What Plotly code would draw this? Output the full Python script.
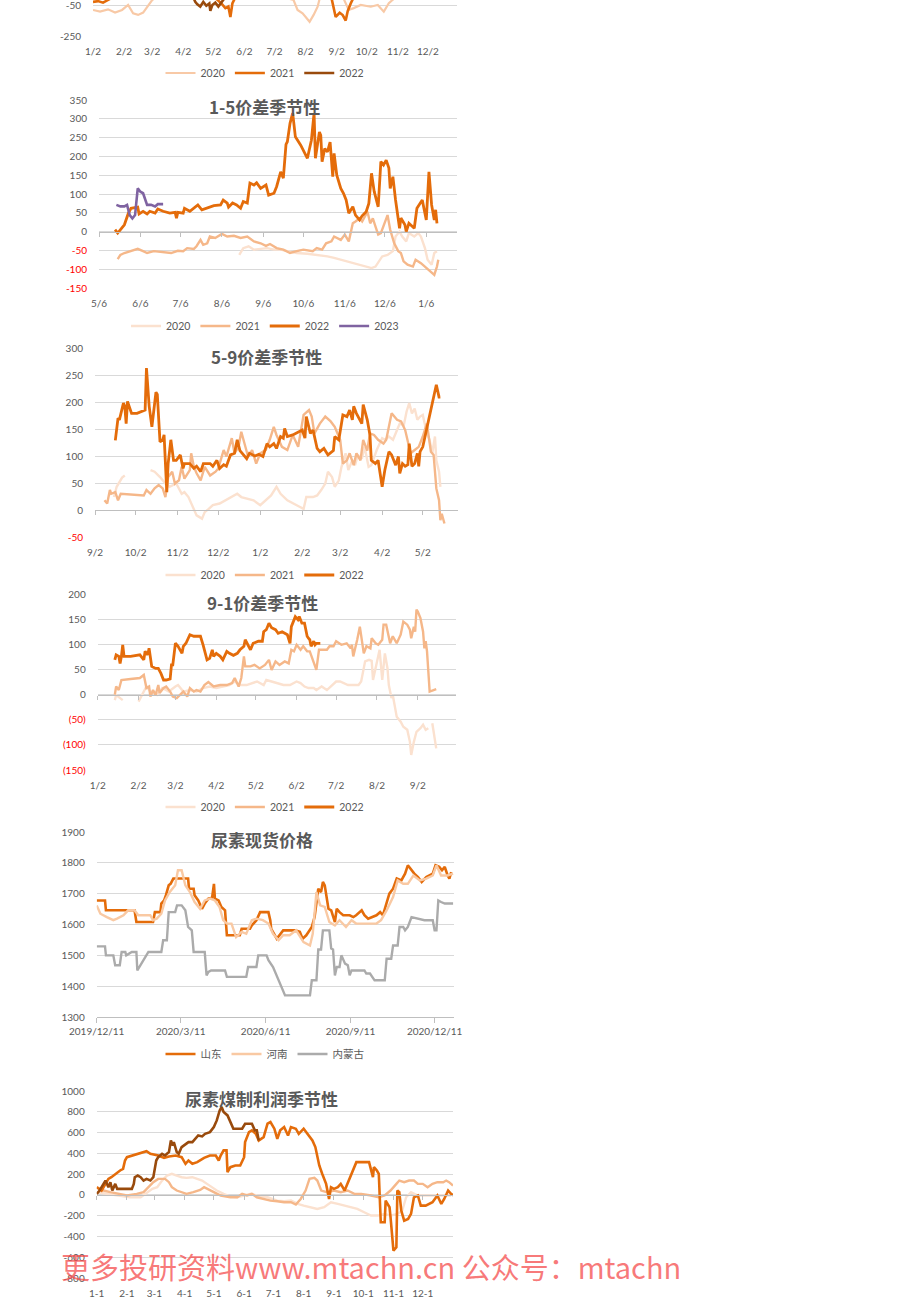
import plotly.graph_objects as go
import pandas as pd

W, H = 920, 1302

# ======================= DATA =======================
# Panel 1 (cut at top) - seasonal spread, days counted from 1/2
P1_BASE = "2021-01-02"
p1_2020_day = [0,7,15,22,29,35,40,45,50,55,59,65,90,120,150,180,200,204,209,214,216,220,224,226,240,250,255,260,267,277,284,290,295,300,320,340,362]
p1_2020_val = [-82,-93,-78,-99,-82,-50,-104,-114,-99,-50,-18,10,40,60,50,20,-18,-82,-104,-147,-158,-114,-61,-10,20,-10,-82,-70,-50,-61,-50,-93,-39,-10,20,40,30]
p1_2021_day = [0,5,10,17,20,60,100,123,128,132,135,137,139,142,170,230,238,240,242,246,249,252,254,257,260,290,340,362]
p1_2021_val = [-30,-25,-35,-10,20,50,20,-10,-40,-70,-60,-127,-40,0,40,20,-10,-60,-127,-100,-115,-150,-90,-40,0,40,30,20]
p1_2022_day = [0,30,60,90,100,102,104,107,110,113,116,117,119,122,125,127,130,133]
p1_2022_val = [30,60,40,20,0,-30,-45,-60,-30,-55,-40,-88,-50,-35,-60,-45,-20,10]
p1_xtick = ["2021-01-02","2021-02-02","2021-03-02","2021-04-02","2021-05-02","2021-06-02","2021-07-02","2021-08-02","2021-09-02","2021-10-02","2021-11-02","2021-12-02"]
p1_xtext = ["1/2","2/2","3/2","4/2","5/2","6/2","7/2","8/2","9/2","10/2","11/2","12/2"]
p1_ytick = [-250, -50]
p1_ytext = ["-250", "-50"]

# Panel 2: 1-5价差季节性, days from 5/6
P2_BASE = "2022-05-06"
p2_2020_day = [105,108,112,116,121,126,131,136,141,148,156,163,171,176,181,185,189,194,199,204,207,210,212,216,220,222,225,227,230,232,236,239,241,244,246,249,251,253]
p2_2020_val = [-62,-44,-39,-48,-46,-44,-48,-48,-52,-57,-59,-62,-66,-70,-75,-79,-84,-88,-93,-97,-93,-75,-66,-62,-52,-13,0,-13,-26,-4,-13,-4,-13,-44,-75,-88,-57,-52]
p2_2021_day = [14,16,19,24,29,33,36,41,48,54,59,63,66,71,73,76,78,81,83,87,92,96,101,106,111,116,121,125,128,133,138,143,148,153,160,163,167,170,174,176,181,184,187,190,192,195,197,201,203,205,207,209,211,214,216,218,221,224,226,228,231,235,237,241,245,249,251,253,254]
p2_2021_val = [-73,-62,-57,-51,-46,-52,-57,-52,-55,-57,-51,-52,-44,-46,-39,-22,-35,-31,-13,-17,-6,-13,-11,-17,-13,-26,-31,-38,-33,-44,-48,-57,-52,-48,-52,-44,-48,-31,-26,-13,-22,-8,-26,22,27,35,27,53,22,35,13,-8,-4,22,44,5,-31,-52,-57,-79,-88,-93,-75,-84,-97,-110,-115,-93,-75]
p2_2022_day = [12,14,17,19,22,24,29,30,33,36,38,42,44,48,53,57,58,59,63,64,68,71,74,77,81,86,91,93,96,97,100,103,106,108,111,113,116,118,121,125,127,131,133,136,138,140,141,143,145,147,151,156,159,161,162,165,166,167,169,171,173,175,176,178,181,183,185,187,190,192,195,197,200,202,204,206,209,210,211,213,215,217,218,220,222,225,226,229,230,232,236,238,242,245,247,249,251,252,253]
p2_2022_val = [5,-4,9,18,49,62,65,47,54,47,54,49,60,54,49,51,36,51,49,62,54,62,71,58,62,69,71,84,76,65,76,71,62,80,76,129,124,130,115,124,97,102,120,159,142,232,239,288,315,252,230,195,243,315,195,265,256,186,221,212,238,146,208,150,115,102,84,49,66,44,31,42,53,75,155,107,66,133,186,177,190,169,115,146,84,9,36,18,0,22,9,62,84,31,159,71,31,58,22]
p2_2023_day = [13,16,19,21,23,25,27,29,31,33,36,39,42,44,48]
p2_2023_val = [71,67,67,71,44,35,44,115,106,102,71,71,67,73,73]
p2_xtick = ["2022-05-06","2022-06-06","2022-07-06","2022-08-06","2022-09-06","2022-10-06","2022-11-06","2022-12-06","2023-01-06"]
p2_xtext = ["5/6","6/6","7/6","8/6","9/6","10/6","11/6","12/6","1/6"]
p2_ytick = [-150,-100,-50,0,50,100,150,200,250,300,350]

# Panel 3: 5-9价差季节性, days from 9/2
P3_BASE = "2021-09-02"
p3_2020_day = [14,16,20,22,30,41,44,48,52,55,60,64,66,69,73,75,79,81,84,87,92,96,100,105,108,112,117,122,126,130,134,137,142,146,151,154,156,161,164,167,170,172,175,177,180,182,185,187,190,192,194,197,199,202,204,208,212,214,217,220,223,225,228,230,232,234,236,238,240,242,245,247,249,251,252,254,255]
p3_2020_val = [24,43,60,64,None,74,71,61,49,43,49,30,33,24,0,-10,-16,-4,2,9,12,18,24,30,24,21,18,9,18,27,43,30,18,12,6,2,24,24,27,37,49,71,61,43,55,80,105,74,92,83,102,95,117,80,83,111,133,130,136,130,148,160,157,182,198,179,188,167,173,176,142,130,105,136,92,71,43]
p3_2021_day = [7,9,11,12,15,17,19,26,36,38,41,44,47,50,52,54,57,59,62,64,66,70,71,73,75,78,81,85,89,91,95,97,101,103,106,108,111,113,116,119,122,126,129,132,134,138,142,146,150,154,158,160,162,166,170,174,177,181,183,186,188,191,193,196,198,201,203,206,209,213,215,219,223,226,229,233,236,239,242,245,248,250,252,254,255,256,258]
p3_2021_val = [18,12,37,30,33,18,30,29,27,37,30,40,46,40,24,61,71,49,55,80,58,74,105,80,68,55,80,64,71,77,111,99,133,105,117,145,117,99,111,86,105,111,130,154,139,117,111,139,117,176,185,173,142,160,173,164,154,130,86,92,105,83,105,92,130,110,142,139,130,123,130,179,167,164,148,105,111,117,136,160,108,102,40,18,-19,-7,-25]
p3_2022_day = [15,16,17,18,20,21,22,23,24,25,27,31,37,38,39,40,42,44,45,46,48,50,51,53,54,56,58,60,63,65,66,70,73,75,78,80,85,87,90,92,95,97,100,103,105,107,110,112,114,118,121,124,127,129,132,134,137,139,140,142,146,153,155,156,159,161,164,166,169,172,176,177,180,183,186,188,190,191,193,197,198,201,203,204,207,209,212,214,217,219,222,224,225,227,229,231,232,234,236,238,239,240,242,245,247,250,252,254,255]
p3_2022_val = [129,148,170,167,185,198,192,160,201,192,179,179,185,263,229,192,154,192,218,214,126,130,139,33,86,130,92,92,102,77,86,86,77,81,71,86,86,81,92,77,84,81,102,105,130,110,102,95,105,100,103,99,123,117,123,114,136,133,151,136,139,148,133,173,142,148,114,108,114,102,110,136,130,176,173,185,167,192,179,160,195,167,139,92,86,92,43,74,108,102,83,99,68,86,81,84,123,81,86,105,81,108,117,151,176,207,232,209,209]
p3_xtick = ["2021-09-02","2021-10-02","2021-11-02","2021-12-02","2022-01-02","2022-02-02","2022-03-02","2022-04-02","2022-05-02"]
p3_xtext = ["9/2","10/2","11/2","12/2","1/2","2/2","3/2","4/2","5/2"]
p3_ytick = [-50,0,50,100,150,200,250,300]

# Panel 4: 9-1价差季节性, days from 1/2
P4_BASE = "2022-01-02"
p4_2020_day = [13,14,17,19,25,31,33,37,40,45,49,54,59,61,65,70,75,80,85,90,95,100,104,108,113,117,121,126,128,132,136,141,146,151,154,157,160,164,166,170,174,178,181,184,187,190,194,198,200,203,206,208,209,211,214,216,217,218,220,221,223,224,227,230,232,235,237,238,240,242,245,247,249,251,253,254,257]
p4_2020_val = [-11,-1,-7,-11,None,-14,-4,16,6,-1,13,6,16,19,6,9,6,13,16,13,16,19,26,19,19,23,26,19,29,26,23,19,19,26,23,16,13,13,9,16,9,19,26,26,23,19,19,19,26,66,69,67,29,56,89,29,59,82,52,19,-7,-1,-44,-54,-64,-70,-94,-120,-94,-74,-67,-60,-70,-67,None,-57,-107]
p4_2021_day = [13,14,16,18,25,32,35,36,37,39,40,42,44,46,47,50,52,55,57,60,62,65,68,70,73,75,78,81,84,88,93,98,102,104,107,109,111,112,116,119,123,127,130,132,135,138,142,145,147,149,151,154,156,159,161,164,166,168,170,174,176,179,181,185,189,192,193,194,197,199,202,204,207,208,211,213,216,217,219,222,224,227,230,232,235,237,238,240,241,242,243,245,247,248,249,250,252,255,257]
p4_2021_val = [0,16,9,29,31,33,39,23,13,16,-4,9,-1,19,3,13,16,6,-4,-7,-1,6,-4,13,6,9,6,19,25,16,19,19,23,33,16,33,76,56,56,59,52,59,69,49,66,59,66,62,89,86,99,89,96,86,86,66,49,89,89,89,96,96,106,99,102,92,99,76,109,135,82,96,92,112,102,99,109,139,139,102,116,102,119,145,139,129,112,135,125,169,165,152,125,92,106,86,6,9,11]
p4_2022_day = [13,14,16,17,18,19,20,25,32,35,36,38,39,41,44,46,48,50,52,55,56,57,59,61,64,65,67,70,73,75,78,80,83,85,87,88,90,93,95,98,100,103,106,108,111,112,114,116,118,122,125,126,128,130,132,135,137,140,142,144,146,147,150,152,153,155,157,159,160,161,162,164,165,166,169]
p4_2022_val = [69,79,76,62,76,99,76,76,79,69,86,79,92,56,52,52,42,29,29,31,59,59,102,96,82,96,102,119,116,116,116,99,69,72,89,76,82,76,69,86,82,78,82,89,96,109,99,89,102,106,106,125,129,142,133,129,122,125,122,119,102,135,155,149,155,142,142,116,112,109,96,106,99,102,102]
p4_xtick = ["2022-01-02","2022-02-02","2022-03-02","2022-04-02","2022-05-02","2022-06-02","2022-07-02","2022-08-02","2022-09-02"]
p4_xtext = ["1/2","2/2","3/2","4/2","5/2","6/2","7/2","8/2","9/2"]
p4_ytick = [-150,-100,-50,0,50,100,150,200]
p4_ytext_pos = ["0","50","100","150","200"]
p4_ytext_neg = ["(150)","(100)","(50)"]

# Panel 5: 尿素现货价格, days from 2019/12/11
P5_BASE = "2019-12-11"
p5_sd_day = [0,9,10,41,43,61,63,69,70,73,75,78,80,83,99,100,105,106,110,114,117,121,125,127,128,132,135,139,141,155,157,166,168,173,177,186,188,189,195,202,215,220,223,227,233,236,240,243,245,247,251,254,258,260,263,267,274,278,281,287,290,294,303,307,310,314,317,321,325,330,334,337,341,344,348,352,357,364,367,371,374,377,380,382,384]
p5_sd_val = [1678,1678,1646,1646,1608,1608,1640,1640,1668,1678,1695,1727,1732,1749,1749,1716,1716,1695,1678,1651,1668,1684,1687,1732,1684,1678,1657,1646,1565,1565,1586,1586,1597,1614,1640,1640,1614,1586,1554,1581,1581,1576,1554,1565,1592,1624,1716,1705,1738,1727,1651,1646,1608,1651,1640,1630,1630,1624,1630,1646,1630,1619,1630,1640,1630,1673,1700,1716,1749,1743,1765,1792,1776,1765,1754,1738,1754,1765,1792,1787,1776,1787,1760,1749,1770]
p5_hn_day = [0,4,11,18,22,29,34,41,45,58,61,65,70,74,79,85,88,92,96,101,106,112,117,123,128,133,137,141,146,151,157,162,168,173,180,186,191,197,202,209,216,224,231,234,238,242,247,252,258,263,270,276,281,288,296,303,308,314,321,326,332,337,343,350,357,364,368,373,380,386]
p5_hn_val = [1662,1635,1624,1614,1619,1630,1646,1646,1630,1630,1614,1619,1635,1678,1705,1727,1776,1776,1727,1705,1673,1651,1678,1684,1678,1657,1614,1603,1603,1559,1576,1570,1614,1619,1614,1603,1570,1549,1565,1565,1581,1543,1532,1570,1705,1662,1657,1608,1597,1614,1592,1614,1603,1603,1603,1603,1614,1646,1689,1743,1732,1732,1759,1743,1749,1759,1792,1759,1759,1765]
p5_nm_day = [0,9,10,18,20,25,27,31,32,38,43,44,56,70,72,76,78,85,87,92,96,99,103,105,117,119,121,124,139,141,162,164,173,175,184,186,191,195,199,204,231,233,238,240,243,245,252,254,256,258,260,263,265,269,272,274,276,290,292,296,301,312,314,319,321,326,328,332,334,337,341,350,355,364,366,368,370,373,377,386]
p5_nm_val = [1529,1529,1500,1500,1468,1468,1511,1511,1500,1511,1511,1451,1511,1511,1549,1549,1640,1640,1662,1662,1646,1592,1581,1511,1511,1435,1446,1451,1451,1430,1430,1462,1462,1500,1500,1484,1462,1435,1403,1370,1370,1419,1419,1519,1519,1581,1581,1522,1519,1435,1462,1462,1500,1473,1468,1435,1451,1451,1441,1441,1419,1419,1489,1489,1532,1532,1592,1592,1581,1592,1624,1619,1614,1614,1581,1581,1678,1673,1668,1668]
p5_xtick = ["2019-12-11","2020-03-11","2020-06-11","2020-09-11","2020-12-11"]
p5_xtext = ["2019/12/11","2020/3/11","2020/6/11","2020/9/11","2020/12/11"]
p5_ytick = [1300,1400,1500,1600,1700,1800,1900]

# Panel 6: 尿素煤制利润季节性, days from 1-1
P6_BASE = "2021-01-01"
p6_a_day = [0,10,21,34,45,53,57,62,67,72,77,82,87,92,98,103,108,113,118,123,130,137,144,151,158,164,175,185,192,199,206,212,219,226,233,240,247,254,260,267,274,281,288,295,301,308,313,317,322,329,336,343,349,356,363]
p6_a_val = [26,10,-6,-23,-23,26,58,74,138,186,203,186,170,164,170,154,138,106,74,42,10,-16,-23,-6,10,-6,-23,-55,-61,-55,-87,-103,-119,-135,-119,-71,-87,-103,-119,-135,-167,-199,-199,-183,-199,-183,-151,-23,26,-6,-6,-6,-6,-6,-6]
p6_b_day = [0,7,14,21,31,41,48,53,58,63,70,74,77,82,87,92,99,106,110,113,120,127,137,144,149,154,159,164,171,178,185,192,199,204,209,214,218,223,226,230,236,243,250,257,264,271,281,289,295,301,307,310,315,320,325,329,334,339,344,349,355,358,361,365]
p6_b_val = [74,42,26,10,-6,10,26,74,122,154,154,122,74,42,26,10,26,48,74,58,26,-6,-23,-23,10,-6,10,-23,-39,-55,-61,-71,-71,-93,-39,42,154,164,138,42,26,42,26,42,10,10,-6,-23,-6,42,106,138,122,138,138,106,106,74,106,122,122,138,122,90]
p6_c_day = [0,3,5,9,12,15,21,24,27,29,31,36,41,48,51,55,60,63,69,74,81,87,91,94,98,103,110,116,122,125,127,130,133,134,137,142,147,151,152,156,159,163,166,171,175,178,182,185,188,192,196,199,204,207,212,216,221,224,228,231,235,237,238,240,243,247,250,254,257,260,266,271,279,283,284,287,289,291,295,296,300,301,304,307,308,310,312,315,319,322,325,329,332,337,344,349,353,356,360,363,366]
p6_c_val = [74,58,42,106,154,170,219,235,251,331,363,379,389,412,421,395,389,379,357,370,379,363,299,331,299,315,357,379,379,331,379,428,428,219,267,283,283,363,508,604,621,588,524,556,685,701,637,540,621,653,572,653,637,588,637,588,524,460,283,203,106,10,-39,74,58,74,106,42,106,186,315,315,315,170,267,235,203,-264,-264,-55,-119,-215,-537,-505,42,26,-151,-248,-232,-183,-23,-6,-103,-103,-71,-6,-87,-39,42,10,-6]
p6_d_day = [0,3,7,9,12,14,16,19,21,24,36,38,39,42,45,48,51,55,58,61,63,67,70,74,76,78,79,82,84,87,91,94,98,101,104,108,111,116,120,123,126,128,130,134,137,140,149,152,159,162,164,166]
p6_d_val = [10,42,106,138,74,122,42,106,58,58,58,106,170,186,170,138,154,138,170,331,363,395,379,412,524,476,508,412,395,460,492,508,508,540,572,563,588,604,653,717,813,846,797,765,701,637,637,685,685,621,621,524]
p6_xtick = ["2021-01-01","2021-02-01","2021-03-01","2021-04-01","2021-05-01","2021-06-01","2021-07-01","2021-08-01","2021-09-01","2021-10-01","2021-11-01","2021-12-01"]
p6_xtext = ["1-1","2-1","3-1","4-1","5-1","6-1","7-1","8-1","9-1","10-1","11-1","12-1"]
p6_ytick = [-800,-600,-400,-200,0,200,400,600,800,1000]

TITLES = ["1-5价差季节性", "5-9价差季节性", "9-1价差季节性", "尿素现货价格", "尿素煤制利润季节性"]
WATERMARK = "更多投研资料www.mtachn.cn 公众号：mtachn"

# ======================= STYLE =======================
C_VLIGHT = "#FBE1CF"
C_LIGHT = "#F5B789"
C_ORANGE = "#E46C0A"
C_BROWN = "#994A0C"
C_PURPLE = "#7F63A1"
C_P1_2020 = "#F8C9A6"
C_HN = "#F9C9A3"
C_GRAY = "#ABABAB"
TXT = "#595959"
RED = "#FF0000"
TF = dict(family="Lato, 'Noto Sans CJK SC', sans-serif", size=10, color=TXT)
LF = dict(family="Lato, 'Noto Sans CJK SC', sans-serif", size=10.5, color=TXT)


def to_dates(base, days):
    b = pd.Timestamp(base)
    return [(b + pd.Timedelta(days=int(d))).strftime("%Y-%m-%d") for d in days]


def red(s):
    return '<span style="color:%s">%s</span>' % (RED, s)


fig = go.Figure()


def add_line(i, base, days, vals, name, color, width, legend=None):
    fig.add_trace(go.Scatter(
        x=to_dates(base, days), y=vals, mode="lines", name=name,
        line=dict(color=color, width=width),
        xaxis="x" if i == 1 else f"x{i}", yaxis="y" if i == 1 else f"y{i}",
        legend=legend if legend else "legend", showlegend=legend is not None,
        connectgaps=False, hoverinfo="skip"))


# Panel 1
add_line(1, P1_BASE, p1_2020_day, p1_2020_val, "2020", C_P1_2020, 2.2, "legend")
add_line(1, P1_BASE, p1_2021_day, p1_2021_val, "2021", C_ORANGE, 2.6, "legend")
add_line(1, P1_BASE, p1_2022_day, p1_2022_val, "2022", C_BROWN, 2.6, "legend")
# Panel 2
add_line(2, P2_BASE, p2_2020_day, p2_2020_val, "2020", C_VLIGHT, 2.4, "legend2")
add_line(2, P2_BASE, p2_2021_day, p2_2021_val, "2021", C_LIGHT, 2.4, "legend2")
add_line(2, P2_BASE, p2_2022_day, p2_2022_val, "2022", C_ORANGE, 2.8, "legend2")
add_line(2, P2_BASE, p2_2023_day, p2_2023_val, "2023", C_PURPLE, 2.6, "legend2")
# Panel 3
add_line(3, P3_BASE, p3_2020_day, p3_2020_val, "2020", C_VLIGHT, 2.4, "legend3")
add_line(3, P3_BASE, p3_2021_day, p3_2021_val, "2021", C_LIGHT, 2.4, "legend3")
add_line(3, P3_BASE, p3_2022_day, p3_2022_val, "2022", C_ORANGE, 2.8, "legend3")
# Panel 4
add_line(4, P4_BASE, p4_2020_day, p4_2020_val, "2020", C_VLIGHT, 2.4, "legend4")
add_line(4, P4_BASE, p4_2021_day, p4_2021_val, "2021", C_LIGHT, 2.4, "legend4")
add_line(4, P4_BASE, p4_2022_day, p4_2022_val, "2022", C_ORANGE, 2.8, "legend4")
# Panel 5
add_line(5, P5_BASE, p5_sd_day, p5_sd_val, "山东", C_ORANGE, 2.6, "legend5")
add_line(5, P5_BASE, p5_hn_day, p5_hn_val, "河南", C_HN, 2.4, "legend5")
add_line(5, P5_BASE, p5_nm_day, p5_nm_val, "内蒙古", C_GRAY, 2.4, "legend5")
# Panel 6 (no legend)
add_line(6, P6_BASE, p6_a_day, p6_a_val, "a", C_VLIGHT, 2.4)
add_line(6, P6_BASE, p6_b_day, p6_b_val, "b", C_LIGHT, 2.4)
add_line(6, P6_BASE, p6_c_day, p6_c_val, "c", C_ORANGE, 2.6)
add_line(6, P6_BASE, p6_d_day, p6_d_val, "d", C_BROWN, 2.6)

# ======================= LAYOUT =======================
p2_ytext = [red(v) if v < 0 else str(v) for v in p2_ytick]
p3_ytext = [red(v) if v < 0 else str(v) for v in p3_ytick]
p4_ytext = [red(s) for s in p4_ytext_neg] + p4_ytext_pos

PANELS = [
    dict(i=1, box=(93, 457, -2, 36), xr=["2021-01-02", "2021-12-31"], yr=[-250, -17.7],
         xt=p1_xtick, xtt=p1_xtext, yt=p1_ytick, ytt=p1_ytext, zero=False),
    dict(i=2, box=(99, 457, 100, 288), xr=["2022-05-06", "2023-01-29"], yr=[-150, 350],
         xt=p2_xtick, xtt=p2_xtext, yt=p2_ytick, ytt=p2_ytext, zero=True),
    dict(i=3, box=(95, 458, 348, 537), xr=["2021-09-02", "2022-05-28"], yr=[-50, 300],
         xt=p3_xtick, xtt=p3_xtext, yt=p3_ytick, ytt=p3_ytext, zero=True),
    dict(i=4, box=(97.7, 456, 594, 770), xr=["2022-01-02", "2022-10-01"], yr=[-150, 200],
         xt=p4_xtick, xtt=p4_xtext, yt=p4_ytick, ytt=p4_ytext, zero=True),
    dict(i=5, box=(96.7, 454, 832, 1017), xr=["2019-12-11", "2021-01-01"], yr=[1300, 1900],
         xt=p5_xtick, xtt=p5_xtext, yt=p5_ytick, ytt=[str(v) for v in p5_ytick], zero=False),
    dict(i=6, box=(96.7, 453, 1091, 1278), xr=["2021-01-01", "2022-01-01"], yr=[-800, 1000],
         xt=p6_xtick, xtt=p6_xtext, yt=p6_ytick, ytt=[str(v) for v in p6_ytick], zero=True),
]

layout = dict(width=W, height=H, margin=dict(l=0, r=0, t=0, b=0, pad=0, autoexpand=False),
              paper_bgcolor="white", plot_bgcolor="white", hovermode=False)

extra = 7
for p in PANELS:
    i = p["i"]
    x0, x1, top, bot = p["box"]
    xd = [x0 / W, x1 / W]
    yd = [max(0, 1 - bot / H), min(1, 1 - top / H)]
    xk = "xaxis" if i == 1 else f"xaxis{i}"
    yk = "yaxis" if i == 1 else f"yaxis{i}"
    xa_id = "x" if i == 1 else f"x{i}"
    ya_id = "y" if i == 1 else f"y{i}"
    bottom_line = (i == 5)
    layout[xk] = dict(domain=xd, range=p["xr"], type="date", tickvals=p["xt"], ticktext=p["xtt"],
                      showgrid=False, zeroline=False, showline=bottom_line, linecolor="#BFBFBF",
                      ticks="outside", ticklen=5 if bottom_line else 6,
                      tickcolor="#BFBFBF" if bottom_line else "rgba(0,0,0,0)",
                      tickfont=TF, anchor=ya_id, fixedrange=True, automargin=False,
                      ticklabeloverflow="allow")
    layout[yk] = dict(domain=yd, range=p["yr"], tickvals=p["yt"], ticktext=p["ytt"],
                      showgrid=True, gridcolor="#D9D9D9", gridwidth=1, zeroline=False,
                      showline=False, ticks="outside", ticklen=9, tickcolor="rgba(0,0,0,0)",
                      tickfont=TF, anchor=xa_id, fixedrange=True, automargin=False,
                      ticklabeloverflow="allow")
    if p["zero"]:
        r0, r1 = p["yr"]
        zpos = yd[0] + (0 - r0) / (r1 - r0) * (yd[1] - yd[0])
        layout[f"xaxis{extra}"] = dict(overlaying=xa_id, anchor="free", position=zpos,
                                       range=p["xr"], type="date", tickvals=p["xt"],
                                       showticklabels=False, showgrid=False, zeroline=False,
                                       showline=True, linecolor="#BFBFBF", linewidth=1,
                                       ticks="outside", ticklen=4, tickcolor="#BFBFBF",
                                       side="bottom", fixedrange=True, automargin=False)
        fig.add_trace(go.Scatter(x=[p["xr"][0]], y=[None], xaxis=f"x{extra}", yaxis=ya_id,
                                 showlegend=False, hoverinfo="skip", mode="lines"))
        extra += 1

for j, py in [(1, 73), (2, 326), (3, 575), (4, 807), (5, 1054)]:
    key = "legend" if j == 1 else f"legend{j}"
    layout[key] = dict(orientation="h", x=265 / W, y=1 - py / H, xanchor="center",
                       yanchor="middle", font=LF, bgcolor="rgba(0,0,0,0)",
                       itemwidth=30, itemclick=False, itemdoubleclick=False)

anns = []
for title, (cx, cy) in zip(TITLES, [(264, 107), (266, 356), (262, 602), (262, 839), (261, 1098)]):
    anns.append(dict(text="<b>%s</b>" % title, x=cx / W, y=1 - cy / H, xref="paper", yref="paper",
                     xanchor="center", yanchor="middle", showarrow=False,
                     font=dict(family="'Noto Sans CJK SC', sans-serif", size=17, color=TXT)))
anns.append(dict(text=WATERMARK, x=371 / W, y=1 - 1266 / H, xref="paper", yref="paper",
                 xanchor="center", yanchor="middle", showarrow=False,
                 font=dict(family="'Noto Sans CJK SC', sans-serif", size=29,
                           color="rgba(245,70,70,0.72)")))
layout["annotations"] = anns

fig.update_layout(**layout)
fig.write_html("out.html")
